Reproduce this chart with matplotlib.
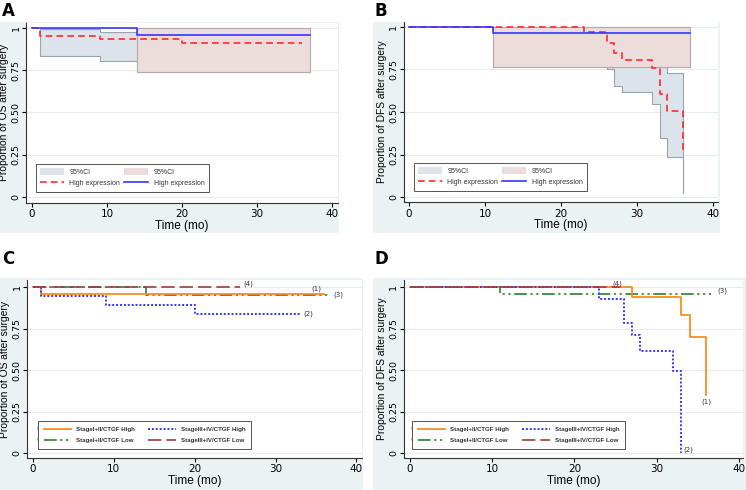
import numpy as np
import matplotlib
matplotlib.use("Agg")
import matplotlib.pyplot as plt
from matplotlib.patches import Rectangle, Patch
from matplotlib.lines import Line2D

# ---- data ----
# A: OS
a_red_t = [0, 1, 9, 20, 36]
a_red_s = [1, 0.955, 0.932, 0.909, 0.909]
a_blue_t = [0, 14, 37]
a_blue_s = [1, 0.96, 0.96]
a_gray_t = [1, 9, 14, 36]
a_gray_lo = [0.832, 0.805, 0.78, 0.78]
a_gray_hi = [0.994, 0.978, 0.97, 0.97]
a_pink_t = [14, 37]
a_pink_lo = [0.742, 0.742]
a_pink_hi = [1.0, 1.0]

# B: DFS
b_red_t = [0, 23, 26, 27, 28, 32, 33, 34, 36]
b_red_s = [1, 0.971, 0.906, 0.844, 0.805, 0.756, 0.605, 0.506, 0.258]
b_blue_t = [0, 11, 37]
b_blue_s = [1, 0.961, 0.961]
b_gray_t = [23, 26, 27, 28, 32, 33, 34, 36, 36.1]
b_gray_lo = [0.80, 0.75, 0.654, 0.615, 0.55, 0.346, 0.234, 0.023, 0.023]
b_gray_hi = [1.0, 0.99, 0.97, 0.93, 0.90, 0.78, 0.727, 0.62, 0.62]
b_pink_t = [11, 37]
b_pink_lo = [0.762, 0.762]
b_pink_hi = [1.0, 1.0]

# C: OS by stage / CTGF
c1_t, c1_s = [0, 1, 36], [1, 0.962, 0.962]
c2_t, c2_s = [0, 1, 9, 20, 33], [1, 0.95, 0.896, 0.841, 0.841]
c3_t, c3_s = [0, 14, 36.6], [1, 0.956, 0.956]
c4_t, c4_s = [0, 25.6], [1, 1]

# D: DFS by stage / CTGF
d1_t, d1_s = [0, 27, 33, 34, 36], [1, 0.94, 0.835, 0.70, 0.351]
d2_t, d2_s = [0, 23, 26, 27, 28, 32, 33], [1, 0.93, 0.785, 0.71, 0.618, 0.498, 0.0]
d3_t, d3_s = [0, 11, 36.6], [1, 0.96, 0.96]
d4_t, d4_s = [0, 25.5], [1, 1]

stage_labels = ["StageI+II/CTGF High", "StageIII+IV/CTGF High",
                "StageI+II/CTGF Low", "StageIII+IV/CTGF Low"]
yticks = [0, 0.25, 0.5, 0.75, 1]
ytick_labels = ["0", "0.25", "0.50", "0.75", "1"]
xticks = [0, 10, 20, 30, 40]

# ---- styles ----
BG = "#eaf2f3"
GRID = "#e4ecee"
GRAY_FILL, GRAY_EDGE = "#dde3ea", "#9aa4ae"
PINK_FILL, PINK_EDGE = "#ecdcdc", "#b4a9a9"
RED = "#ff2a2a"
BLUE = "#3535ff"
ORANGE = "#ff8c1a"
GREEN = "#3a8a3a"
MAROON = "#a03c3c"
SANS = "Liberation Sans"

W, H = 746, 490
fig = plt.figure(figsize=(7.46, 4.90), dpi=100)


def px_box(x0, y0, x1, y1):
    return [x0 / W, 1 - y1 / H, (x1 - x0) / W, (y1 - y0) / H]


def panel(bg, ax_box, xlim, ylim, ylabel, letter, letter_xy):
    fig.add_artist(Rectangle((bg[0], bg[1]), bg[2], bg[3], transform=fig.transFigure,
                             facecolor=BG, edgecolor="none", zorder=0))
    ax = fig.add_axes(ax_box)
    ax.set_facecolor("white")
    ax.set_xlim(*xlim)
    ax.set_ylim(*ylim)
    for s in ["top", "right"]:
        ax.spines[s].set_visible(False)
    for s in ["left", "bottom"]:
        ax.spines[s].set_color("#333333")
        ax.spines[s].set_linewidth(0.8)
    ax.set_yticks(yticks)
    ax.set_yticklabels(ytick_labels, rotation=90, va="center", fontsize=6.8)
    ax.set_xticks(xticks)
    ax.tick_params(axis="x", labelsize=7.5, length=3, width=0.8, pad=1.5)
    ax.tick_params(axis="y", length=3, width=0.8, pad=1)
    for y in yticks:
        ax.axhline(y, color=GRID, lw=0.8, zorder=0.5)
    ax.set_xlabel("Time (mo)", fontsize=8.5, family=SANS, labelpad=0.5)
    ax.set_ylabel(ylabel, fontsize=7.4, family=SANS, labelpad=1.5)
    fig.text(letter_xy[0] / W, 1 - letter_xy[1] / H, letter, fontsize=12,
             fontweight="bold", ha="left", va="top")
    return ax


def ci_band(ax, t, lo, hi, fc, ec, z):
    ax.fill_between(t, lo, hi, step="post", facecolor=fc, edgecolor=ec, lw=0.8, zorder=z)


# ---- A ----
axA = panel(px_box(0, 22, 339, 233), px_box(26, 22.7, 338, 203),
            (-0.8, 40.8), (-0.036, 1.031), "Proportion of OS after surgery", "A", (2, 2))
ci_band(axA, a_gray_t, a_gray_lo, a_gray_hi, GRAY_FILL, GRAY_EDGE, 1)
ci_band(axA, a_pink_t, a_pink_lo, a_pink_hi, PINK_FILL, PINK_EDGE, 2)
axA.step(a_red_t, a_red_s, where="post", color=RED, lw=1.2, dashes=(4, 2.5), zorder=3)
axA.step(a_blue_t, a_blue_s, where="post", color=BLUE, lw=1.2, zorder=4)

# ---- B ----
axB = panel(px_box(373, 22, 720, 233), px_box(403.7, 22, 718, 202.3),
            (-0.7, 40.66), (-0.029, 1.028), "Proportion of DFS after surgery", "B", (375, 2))
ci_band(axB, b_gray_t, b_gray_lo, b_gray_hi, GRAY_FILL, GRAY_EDGE, 1)
ci_band(axB, b_pink_t, b_pink_lo, b_pink_hi, PINK_FILL, PINK_EDGE, 2)
axB.step(b_red_t, b_red_s, where="post", color=RED, lw=1.2, dashes=(4, 2.5), zorder=3)
axB.step(b_blue_t, b_blue_s, where="post", color=BLUE, lw=1.2, zorder=4)

for box in [(36, 164), (414, 163)]:
    handles = [Patch(facecolor=GRAY_FILL, edgecolor="none"),
               Line2D([], [], color=RED, lw=1.2, dashes=(4, 2.5)),
               Patch(facecolor=PINK_FILL, edgecolor="none"),
               Line2D([], [], color=BLUE, lw=1.2)]
    labels = ["95%CI", "High expression", "95%CI", "High expression"]
    leg = fig.legend(handles, labels, ncol=2, loc="upper left",
                     bbox_to_anchor=(box[0] / W, 1 - box[1] / H),
                     prop=dict(size=5.0, family=SANS),
                     fancybox=False, edgecolor="#555555", framealpha=1,
                     handlelength=3.4, handleheight=1.2, columnspacing=0.6,
                     borderpad=0.6, labelspacing=0.5, handletextpad=0.8,
                     borderaxespad=0)
    leg.get_frame().set_linewidth(0.7)
    for txt in leg.get_texts():
        txt.set_color("#333333")

# ---- C ----
axC = panel(px_box(0, 278, 363, 490), px_box(27, 280, 362, 458),
            (-0.74, 40.7), (-0.028, 1.044), "Proportion of OS after surgery", "C", (2, 250))
# ---- D ----
axD = panel(px_box(373, 278, 746, 490), px_box(403.7, 280, 743, 458),
            (-0.77, 40.5), (-0.028, 1.044), "Proportion of DFS after surgery", "D", (375, 250))

sty1 = dict(color=ORANGE, lw=1.3)
sty2 = dict(color=BLUE, lw=1.4, dashes=(1, 1))
sty3 = dict(color=GREEN, lw=1.3, dashes=(7, 2, 1.2, 2, 1.2, 2))
sty4 = dict(color=MAROON, lw=1.2, dashes=(8, 3))

for ax, series in [(axC, [(c1_t, c1_s), (c2_t, c2_s), (c3_t, c3_s), (c4_t, c4_s)]),
                   (axD, [(d1_t, d1_s), (d2_t, d2_s), (d3_t, d3_s), (d4_t, d4_s)])]:
    for (t, s), sty, z in zip(series, [sty1, sty2, sty3, sty4], [3, 4, 2, 5]):
        ax.step(t, s, where="post", zorder=z, **sty)

lab = dict(fontsize=5, color="#333333")
axC.text(34.4, 0.972, "(1)", va="bottom", **lab)
axC.text(33.4, c2_s[-1], "(2)", va="center", **lab)
axC.text(37.1, c3_s[-1], "(3)", va="center", **lab)
axC.text(26.0, 1.0, "(4)", va="bottom", **lab)
axD.text(36, 0.33, "(1)", ha="center", va="top", **lab)
axD.text(33.3, 0.0, "(2)", va="bottom", **lab)
axD.text(37.4, d3_s[-1], "(3)", va="bottom", **lab)
axD.text(24.6, 1.0, "(4)", va="bottom", **lab)

stage_legs = []
for box in [(38, 421), (412, 421)]:
    handles = [Line2D([], [], **sty1), Line2D([], [], **sty3),
               Line2D([], [], **sty2), Line2D([], [], **sty4)]
    labels = [stage_labels[0], stage_labels[2], stage_labels[1], stage_labels[3]]
    leg = fig.legend(handles, labels, ncol=2, loc="upper left",
                     bbox_to_anchor=(box[0] / W, 1 - box[1] / H),
                     prop=dict(size=4.4, weight="bold", family=SANS),
                     fancybox=False, edgecolor="#555555", framealpha=1,
                     handlelength=4.5, columnspacing=2.2,
                     borderpad=0.9, labelspacing=1.0, handletextpad=0.8,
                     borderaxespad=0)
    leg.get_frame().set_linewidth(0.7)
    for txt in leg.get_texts():
        txt.set_color("#333333")
    stage_legs.append(leg)

fig.canvas.draw()
inv = fig.transFigure.inverted()
for leg in stage_legs:
    for line, num in zip(leg.get_lines(), ["(1)", "(3)", "(2)", "(4)"]):
        bb = line.get_window_extent(fig.canvas.get_renderer())
        x, y = inv.transform((bb.x0, (bb.y0 + bb.y1) / 2))
        fig.text(x - 0.001, y, num, fontsize=3.2, ha="right", va="center", color="#444444")

fig.savefig("out.png", dpi=100)
